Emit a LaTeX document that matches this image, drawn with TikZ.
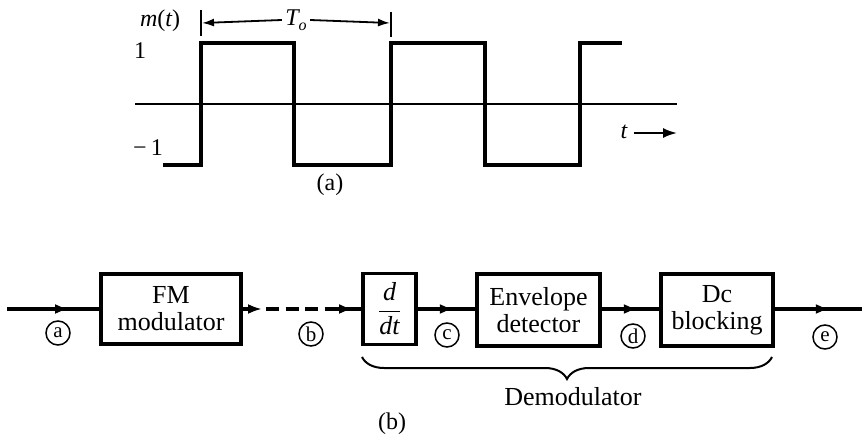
\documentclass[tikz,border=0pt]{standalone}
\usepackage{fontspec}
\setmainfont{Liberation Serif}
\usetikzlibrary{arrows.meta,decorations.markings,decorations.pathreplacing}
\begin{document}
\begin{tikzpicture}[x=1pt,y=-1pt,
  every node/.style={font=\fontsize{24}{26}\selectfont},
  sig/.style={line width=3.4pt},
  blk/.style={draw, line width=3.6pt, align=center, inner sep=0pt, font=\fontsize{26}{27}\selectfont},
  tip/.style={-{Latex[length=14pt,width=10pt]}},
  arrowat/.style={postaction={decorate},decoration={markings,mark=at position #1 with {\arrow{Latex[length=14pt,width=10pt]}}}},
  circ/.style={draw, circle, line width=1.5pt, inner sep=0pt, minimum size=24pt, font=\fontsize{21}{21}\selectfont},
  thinl/.style={line width=2pt}]
\useasboundingbox (0,0) rectangle (862,438);

% ---------- (a) square wave ----------
\draw[thinl] (135,104) -- (677,104);
\draw[line width=4pt, line join=miter]
  (163,165) -- (201,165) -- (201,43) -- (294,43) -- (294,165) -- (391,165)
  -- (391,43) -- (485,43) -- (485,165) -- (580,165) -- (580,43) -- (622,43);
\draw[thinl] (201,10) -- (201,36);
\draw[thinl] (391,12) -- (391,37);
\node (To) at (296,20) {\itshape T\raisebox{-5pt}{\fontsize{16}{16}\selectfont o}};
\draw[line width=1.8pt,-{Latex[length=12pt,width=8pt]}] (To.west) -- (202,23);
\draw[line width=1.8pt,-{Latex[length=12pt,width=8pt]}] (To.east) -- (390,23);
\node (mt) at (160,21) {{\itshape m}({\itshape t})};
\node (one) at (140,51) {1};
\node (mone) at (148,148) {−\,1};
\node (tl) at (624,132) {\itshape t};
\draw[thinl,tip] (634,133) -- (677,133);
\node (la) at (330,185) {(a)};

% ---------- (b) block diagram ----------
\coordinate (in) at (7,309);
\node[blk, minimum width=140pt, minimum height=70pt] (fm) at (171,309) {FM\\modulator};
\node[blk, minimum width=53pt, minimum height=71pt] (ddt) at (389.5,309)
  {$\displaystyle\frac{\mbox{\itshape d}}{\mbox{\itshape dt}}$};
\node[blk, minimum width=123pt, minimum height=72pt] (env) at (538.5,310) {Envelope\\detector};
\node[blk, minimum width=112pt, minimum height=72pt] (dc) at (717,310) {Dc\\blocking};
\coordinate (out) at (862,309);
\coordinate (d1) at (262,309);
\coordinate (d1b) at (266,309);
\coordinate (d2) at (325,309);

\draw[sig, arrowat=62pt] (in) -- (fm.west);
\draw[sig, tip] (fm.east) -- (d1);
\draw[sig, dash pattern=on 13pt off 6.5pt] (d1b) -- (d2);
\draw[sig, arrowat=28pt] (d2) -- (ddt.west);
\draw[sig, arrowat=36pt] (ddt.east) -- (env.west |- ddt.east);
\draw[sig, arrowat=36pt] (env.east |- ddt.east) -- (dc.west |- ddt.east);
\draw[sig, arrowat=55pt] (dc.east |- ddt.east) -- (out);

\node[circ] (ca) at (58,333) {a};
\node[circ] (cb) at (311,334) {b};
\node[circ] (cc) at (447,335) {c};
\node[circ] (cd) at (633,336) {d};
\node[circ] (ce) at (825,337) {e};

\draw[thinl, decorate, decoration={brace, mirror, amplitude=22pt}] (362,357) -- (772,357);
\node (demod) at (573,397) {\fontsize{26}{27}\selectfont Demodulator};
\node (lb) at (392,424) {(b)};
\end{tikzpicture}
\end{document}
